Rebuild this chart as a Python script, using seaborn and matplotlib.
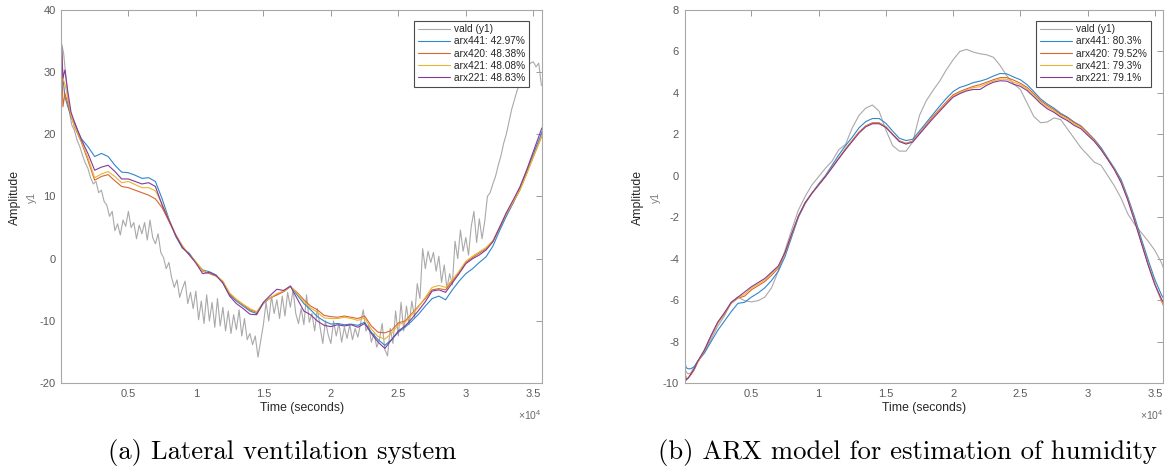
import numpy as np
import matplotlib
matplotlib.use("Agg")
import matplotlib.pyplot as plt
from matplotlib.lines import Line2D
import seaborn as sns

# ---------------------------------------------------------------- data
# sample times (units of 1e4 s)
T_MODEL = np.array([0.003, 0.015, 0.03, 0.05, 0.075]
                   + list(np.arange(0.10, 3.5501, 0.05)) + [3.564])
T_VALD_A = np.arange(0.0, 3.5601, 0.02)

X_TICKS = [0.5, 1.0, 1.5, 2.0, 2.5, 3.0, 3.5]
X_TICK_LABELS = ["0.5", "1", "1.5", "2", "2.5", "3", "3.5"]

# (a) lateral ventilation system
Y_TICKS_A = [-20, -10, 0, 10, 20, 30, 40]
LABELS_A = ["vald (y1)", "arx441: 42.97%", "arx420: 48.38%",
            "arx421: 48.08%", "arx221: 48.83%"]

vald_a = [
    35.0, 33.0, 28.5, 24.0, 21.5, 20.6, 19.0, 18.0, 16.6, 15.4,
    14.5, 13.0, 12.0, 12.4, 10.6, 11.0, 9.2, 8.6, 6.8, 7.6,
    4.5, 5.6, 3.8, 6.2, 5.2, 7.6, 5.0, 5.8, 3.2, 5.4,
    4.0, 5.8, 3.0, 6.2, 3.4, 2.4, 4.0, 1.0, 0.2, -1.6,
    -0.6, -3.0, -4.6, -3.4, -6.2, -4.8, -3.6, -7.2, -5.4, -8.0,
    -5.2, -9.8, -6.8, -10.4, -5.8, -10.0, -7.0, -11.0, -6.4, -10.8,
    -7.8, -11.6, -8.4, -12.0, -9.0, -11.4, -8.2, -12.4, -9.6, -13.0,
    -12.0, -13.8, -12.4, -15.8, -13.2, -10.6, -7.0, -10.0, -6.0, -8.8,
    -6.6, -9.6, -6.0, -9.2, -5.4, -7.8, -5.0, -8.8, -10.4, -8.0,
    -10.6, -5.8, -10.2, -8.8, -11.6, -8.0, -11.0, -13.6, -10.0, -12.2,
    -13.6, -10.0, -12.4, -10.4, -13.4, -11.0, -12.8, -10.6, -13.0, -11.2,
    -12.6, -10.4, -8.2, -11.6, -10.6, -13.4, -12.0, -14.2, -13.0, -10.4,
    -14.6, -15.6, -11.2, -13.6, -8.4, -12.4, -7.0, -11.6, -7.6, -10.6,
    -6.8, -9.4, -4.0, -6.4, 1.6, -1.6, 1.2, -0.6, 1.0, -2.0,
    0.4, -3.8, -1.0, -4.8, -2.4, -4.2, 2.8, 0.0, 4.6, 1.2,
    3.4, 0.6, 5.2, 7.6, 2.6, 6.4, 3.2, 6.0, 10.0, 10.6,
    12.0, 13.2, 15.0, 16.5, 18.5, 20.0, 22.0, 24.0, 25.5, 27.0,
    28.2, 29.4, 30.4, 31.0, 31.4, 31.6, 30.8, 31.4, 27.8,
]

arx441_a = [
    34.5, 29.0, 26.0, 24.5, 22.8,
    21.7, 19.3, 18.0, 16.4, 16.9, 16.4, 15.0, 13.9, 13.8, 13.4,
    12.9, 13.0, 12.4, 9.6, 6.4, 3.6, 1.7, 0.9, -0.6, -1.8,
    -2.1, -2.6, -3.9, -5.8, -6.8, -7.6, -8.4, -8.8, -7.2, -6.3,
    -5.8, -5.2, -4.4, -5.8, -7.2, -8.2, -9.3, -10.0, -10.5, -10.4,
    -10.6, -10.5, -10.7, -10.2, -11.8, -13.0, -13.9, -13.0, -11.8, -11.0,
    -10.0, -8.9, -7.6, -6.4, -6.0, -6.6, -5.0, -3.6, -2.4, -1.6,
    -0.6, 0.3, 2.0, 4.5, 6.8, 8.9, 11.2, 14.0, 16.8, 19.5,
    20.4,
]
arx420_a = [
    35.0, 24.4, 26.5, 25.0, 23.0,
    21.2, 18.8, 15.8, 12.6, 13.2, 13.5, 12.5, 11.6, 11.4, 11.0,
    10.6, 10.2, 9.6, 8.2, 6.0, 3.8, 2.0, 0.6, -0.6, -2.0,
    -2.4, -2.8, -3.7, -5.6, -6.6, -7.4, -8.2, -8.6, -7.1, -6.3,
    -5.8, -5.3, -4.5, -5.4, -6.6, -7.6, -8.2, -9.1, -9.3, -9.4,
    -9.2, -9.4, -9.6, -9.2, -10.8, -11.8, -11.9, -11.5, -10.3, -10.0,
    -8.8, -7.6, -6.4, -5.0, -4.8, -5.0, -3.6, -2.2, -0.6, 0.2,
    0.9, 1.6, 2.8, 5.0, 7.2, 9.0, 11.0, 13.6, 16.4, 19.0,
    19.8,
]
arx421_a = [
    34.0, 29.0, 28.0, 26.0, 23.0,
    21.3, 19.0, 16.2, 13.0, 13.6, 14.0, 13.2, 12.2, 12.4, 11.9,
    11.4, 11.4, 10.9, 8.8, 6.3, 3.9, 2.1, 0.7, -0.5, -1.9,
    -2.3, -2.7, -3.6, -5.5, -6.5, -7.3, -8.0, -8.5, -7.1, -6.3,
    -5.6, -5.2, -4.5, -5.5, -6.9, -7.9, -8.6, -9.5, -9.6, -9.6,
    -9.4, -9.6, -9.9, -9.5, -11.3, -12.5, -12.9, -12.0, -10.6, -10.2,
    -9.0, -7.7, -6.2, -4.6, -4.3, -4.6, -3.4, -2.0, -0.4, 0.4,
    1.1, 1.8, 2.9, 5.1, 7.2, 9.1, 11.0, 13.6, 16.3, 19.0,
    19.8,
]
arx221_a = [
    35.0, 29.0, 30.3, 27.0, 23.5,
    22.0, 19.2, 16.9, 14.2, 14.7, 15.0, 14.0, 12.8, 12.8, 12.4,
    12.0, 12.2, 11.6, 8.6, 6.2, 3.8, 1.8, 0.7, -0.7, -2.4,
    -2.2, -2.7, -3.9, -6.0, -7.2, -8.0, -8.9, -9.0, -7.0, -5.9,
    -4.9, -5.1, -4.4, -6.4, -8.4, -9.0, -10.0, -10.7, -10.9, -10.6,
    -10.8, -10.6, -11.0, -10.4, -12.0, -13.4, -14.4, -13.0, -11.6, -10.8,
    -9.6, -8.3, -6.9, -5.2, -5.0, -5.4, -3.9, -2.4, -0.8, 0.0,
    0.6, 1.4, 2.7, 5.0, 7.4, 9.4, 11.5, 14.2, 17.2, 20.2,
    21.0,
]

# (b) ARX model for humidity
Y_TICKS_B = [-10, -8, -6, -4, -2, 0, 2, 4, 6, 8]
LABELS_B = ["vald (y1)", "arx441: 80.3%", "arx420: 79.52%",
            "arx421: 79.3%", "arx221: 79.1%"]

vald_b = [
    -9.2, -9.45, -9.55, -9.5, -9.2,
    -8.95, -8.5, -7.9, -7.25, -6.75, -6.1, -5.85, -6.02, -6.08, -6.02,
    -5.85, -5.4, -4.6, -3.6, -2.6, -1.65, -1.0, -0.45, -0.05, 0.35,
    0.7, 1.25, 1.5, 2.3, 2.9, 3.25, 3.4, 3.1, 2.2, 1.45,
    1.18, 1.18, 1.62, 2.9, 3.6, 4.1, 4.55, 5.1, 5.58, 5.98,
    6.08, 5.95, 5.87, 5.82, 5.7, 5.3, 4.8, 4.42, 4.15, 3.5,
    2.85, 2.55, 2.58, 2.78, 2.7, 2.25, 1.8, 1.35, 1.0, 0.65,
    0.5, 0.0, -0.5, -1.1, -1.85, -2.35, -2.75, -3.15, -3.6, -4.2,
    -4.45,
]
arx441_b = [
    -8.9, -9.25, -9.3, -9.3, -9.2,
    -8.95, -8.55, -8.0, -7.45, -7.0, -6.55, -6.15, -6.1, -5.85, -5.65,
    -5.4, -5.05, -4.6, -3.9, -2.95, -2.0, -1.35, -0.85, -0.4, 0.0,
    0.5, 1.0, 1.45, 1.85, 2.3, 2.6, 2.75, 2.75, 2.52, 2.15,
    1.8, 1.69, 1.75, 2.15, 2.55, 2.95, 3.35, 3.72, 4.05, 4.25,
    4.35, 4.48, 4.55, 4.65, 4.8, 4.92, 4.9, 4.75, 4.62, 4.38,
    4.05, 3.7, 3.45, 3.25, 3.0, 2.82, 2.58, 2.4, 2.08, 1.75,
    1.35, 0.85, 0.35, -0.2, -1.05, -2.0, -3.05, -4.05, -5.0, -5.75,
    -5.9,
]
arx420_b = [
    -9.4, -9.8, -9.75, -9.6, -9.35,
    -9.0, -8.45, -7.75, -7.1, -6.65, -6.15, -5.9, -5.8, -5.5, -5.3,
    -5.1, -4.8, -4.45, -3.75, -2.85, -1.95, -1.3, -0.85, -0.45, -0.05,
    0.4, 0.85, 1.3, 1.7, 2.1, 2.4, 2.55, 2.55, 2.36, 2.0,
    1.68, 1.56, 1.66, 2.05, 2.45, 2.85, 3.2, 3.55, 3.89, 4.05,
    4.18, 4.3, 4.38, 4.5, 4.62, 4.72, 4.72, 4.6, 4.45, 4.25,
    3.95, 3.62, 3.38, 3.18, 2.95, 2.78, 2.55, 2.38, 2.05, 1.72,
    1.28, 0.8, 0.3, -0.3, -1.15, -2.15, -3.2, -4.25, -5.2, -6.05,
    -6.25,
]
arx421_b = [
    -9.4, -9.75, -9.75, -9.55, -9.3,
    -8.98, -8.42, -7.72, -7.08, -6.62, -6.12, -5.88, -5.7, -5.42, -5.22,
    -5.02, -4.72, -4.4, -3.72, -2.82, -1.95, -1.3, -0.85, -0.45, -0.05,
    0.39, 0.83, 1.27, 1.67, 2.07, 2.37, 2.52, 2.52, 2.34, 1.99,
    1.66, 1.54, 1.64, 2.02, 2.41, 2.8, 3.15, 3.5, 3.83, 4.0,
    4.13, 4.24, 4.28, 4.43, 4.56, 4.65, 4.64, 4.5, 4.38, 4.18,
    3.88, 3.55, 3.3, 3.12, 2.88, 2.72, 2.49, 2.32, 2.0, 1.68,
    1.26, 0.79, 0.29, -0.32, -1.17, -2.17, -3.22, -4.27, -5.22, -6.0,
    -6.18,
]
arx221_b = [
    -9.4, -9.85, -9.75, -9.55, -9.3,
    -8.95, -8.4, -7.7, -7.05, -6.6, -6.1, -5.85, -5.6, -5.35, -5.15,
    -4.95, -4.65, -4.35, -3.7, -2.8, -1.95, -1.3, -0.85, -0.45, -0.05,
    0.38, 0.82, 1.25, 1.65, 2.05, 2.35, 2.5, 2.5, 2.32, 1.98,
    1.64, 1.52, 1.62, 2.0, 2.38, 2.75, 3.1, 3.45, 3.78, 3.95,
    4.08, 4.15, 4.15, 4.35, 4.5, 4.57, 4.55, 4.4, 4.3, 4.1,
    3.8, 3.48, 3.22, 3.05, 2.82, 2.65, 2.42, 2.26, 1.95, 1.65,
    1.25, 0.78, 0.28, -0.35, -1.2, -2.2, -3.25, -4.3, -5.25, -5.95,
    -6.1,
]

CAPTION_A = "(a) Lateral ventilation system"
CAPTION_B = "(b) ARX model for estimation of humidity"

# ---------------------------------------------------------------- style
COLORS = ["#a9a9a9", "#2f86cf", "#d9652f", "#eab530", "#84399a"]
SCALE = 1e4

sns.set_theme(style="white")
plt.rcParams["font.family"] = ["Liberation Sans", "DejaVu Sans"]
plt.rcParams["mathtext.fontset"] = "custom"
plt.rcParams["mathtext.rm"] = "Liberation Sans"
plt.rcParams["mathtext.it"] = "Liberation Sans:italic"

fig = plt.figure(figsize=(11.66, 4.71), dpi=100)
fig.patch.set_facecolor("white")
ax_a = fig.add_axes([0.0527, 0.1862, 0.4121, 0.7936])
ax_b = fig.add_axes([0.5872, 0.1862, 0.4106, 0.7936])


def draw_panel(ax, t_vald, vald, models, labels, yticks):
    series = [(t_vald, vald)] + [(T_MODEL, m) for m in models]
    for (t, y), col in zip(series, COLORS):
        sns.lineplot(x=np.asarray(t) * SCALE, y=y, ax=ax, color=col,
                     linewidth=0.8, estimator=None, sort=False,
                     legend=False)

    ax.set_xlim(40, 35640)
    ax.set_ylim(yticks[0], yticks[-1])
    ax.set_xticks([v * SCALE for v in X_TICKS])
    ax.set_xticklabels(X_TICK_LABELS)
    ax.set_yticks(yticks)
    ax.set_yticklabels([str(v) for v in yticks])
    ax.tick_params(direction="in", length=4, width=0.6, top=True,
                   right=True, color="#8c8c8c", labelcolor="#5a5a5a",
                   labelsize=8, pad=4)
    for sp in ax.spines.values():
        sp.set_visible(True)
        sp.set_color("#a8a8a8")
        sp.set_linewidth(0.8)

    ax.set_xlabel("Time (seconds)", fontsize=8.8, color="#262626")
    ax.xaxis.set_label_coords(0.5, -0.066)
    ax.xaxis.label.set_verticalalignment("center")
    ax.set_ylabel("")
    ax.text(-0.097, 0.496, "Amplitude", transform=ax.transAxes,
            rotation=90, ha="center", va="center", fontsize=8.8,
            color="#262626")
    ax.text(-0.061, 0.496, "y1", transform=ax.transAxes, rotation=90,
            ha="center", va="center", fontsize=7.5, color="#7a7a7a")
    ax.text(1.0, -0.085, r"$\times10^{4}$", transform=ax.transAxes,
            ha="right", va="center", fontsize=7.5, color="#6a6a6a")

    handles = [Line2D([], [], color=c, linewidth=0.8) for c in COLORS]
    leg = ax.legend(handles, labels, loc="upper right",
                    bbox_to_anchor=(0.9736, 0.9706),
                    fontsize=7.3, frameon=True, fancybox=False,
                    edgecolor="#4a4a4a", framealpha=1, handlelength=3.2,
                    handletextpad=0.4, labelspacing=0.22, borderpad=0.35,
                    borderaxespad=0)
    leg.get_frame().set_linewidth(0.8)
    for txt in leg.get_texts():
        txt.set_color("#262626")


draw_panel(ax_a, T_VALD_A, vald_a, [arx441_a, arx420_a, arx421_a, arx221_a],
           LABELS_A, Y_TICKS_A)
draw_panel(ax_b, T_MODEL, vald_b, [arx441_b, arx420_b, arx421_b, arx221_b],
           LABELS_B, Y_TICKS_B)

fig.text(0.2423, 1 - 452 / 471, CAPTION_A, family="cmr10", fontsize=19.2,
         ha="center", va="center", color="black")
fig.text(0.778, 1 - 452 / 471, CAPTION_B, family="cmr10", fontsize=19.2,
         ha="center", va="center", color="black")

fig.savefig("out.png", dpi=100, facecolor="white")
